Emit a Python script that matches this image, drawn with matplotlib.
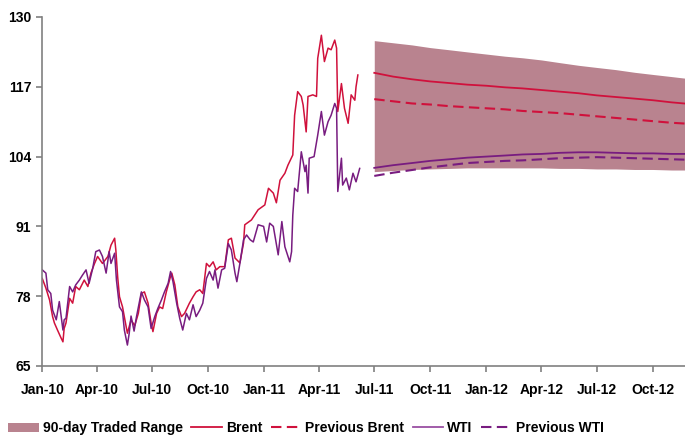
import matplotlib
matplotlib.use('Agg')
import matplotlib.pyplot as plt
import matplotlib.dates as mdates
import pandas as pd
from matplotlib.lines import Line2D
from matplotlib.patches import Patch

plt.rcParams['font.family'] = ['Liberation Sans', 'DejaVu Sans']
plt.rcParams['font.weight'] = 'bold'
plt.rcParams['font.size'] = 10

RED = '#D0113C'
PURPLE = '#781C80'
BAND = '#B9838F'

# daily history (readings at turning points)
brent_dates = ['2010-01-01', '2010-01-07', '2010-01-13', '2010-01-18', '2010-01-21', '2010-01-26',
               '2010-02-01', '2010-02-04', '2010-02-06', '2010-02-09', '2010-02-15', '2010-02-20',
               '2010-02-25', '2010-03-03', '2010-03-11', '2010-03-17', '2010-03-22', '2010-03-28',
               '2010-04-02', '2010-04-10', '2010-04-19', '2010-04-24', '2010-04-30', '2010-05-02',
               '2010-05-05', '2010-05-08', '2010-05-13', '2010-05-19', '2010-05-21', '2010-05-27',
               '2010-06-02', '2010-06-08', '2010-06-13', '2010-06-18', '2010-06-24', '2010-06-29',
               '2010-07-02', '2010-07-08', '2010-07-13', '2010-07-18', '2010-07-24', '2010-07-30',
               '2010-08-02', '2010-08-07', '2010-08-12', '2010-08-18', '2010-08-23', '2010-08-31',
               '2010-09-06', '2010-09-11', '2010-09-17', '2010-09-22', '2010-09-28', '2010-10-03',
               '2010-10-09', '2010-10-14', '2010-10-20', '2010-10-28', '2010-11-03', '2010-11-08',
               '2010-11-14', '2010-11-22', '2010-11-28', '2010-11-30', '2010-12-11', '2010-12-22',
               '2011-01-02', '2011-01-08', '2011-01-16', '2011-01-21', '2011-01-27', '2011-02-04',
               '2011-02-09', '2011-02-17', '2011-02-20', '2011-02-25', '2011-03-03', '2011-03-06',
               '2011-03-11', '2011-03-14', '2011-03-22', '2011-03-28', '2011-03-30', '2011-04-05',
               '2011-04-10', '2011-04-16', '2011-04-21', '2011-04-27', '2011-04-30', '2011-05-02',
               '2011-05-08', '2011-05-13', '2011-05-19', '2011-05-24', '2011-05-30', '2011-06-01',
               '2011-06-04']
brent_hist = [81.3, 79.5, 77.3, 74.2, 73.0, 71.7,
              70.2, 69.5, 72.0, 73.0, 77.6, 76.7,
              79.8, 79.2, 81.0, 79.8, 82.3, 84.1,
              85.4, 84.1, 85.4, 87.5, 88.8, 86.6,
              81.6, 77.9, 76.0, 72.3, 71.1, 73.6,
              72.5, 74.8, 78.5, 78.8, 76.7, 73.0,
              71.4, 74.8, 76.0, 75.7, 78.8, 81.3,
              82.3, 80.1, 76.0, 74.2, 74.8, 76.7,
              77.9, 78.8, 79.2, 78.5, 84.1, 83.5,
              84.4, 82.9, 83.5, 83.5, 88.5, 88.8,
              85.1, 84.2, 87.9, 91.3, 92.2, 94.1,
              95.0, 98.1, 97.2, 95.4, 99.6, 100.9,
              102.4, 104.3, 111.7, 116.1, 115.2, 113.6,
              108.6, 115.2, 115.5, 115.2, 122.3, 126.6,
              121.7, 124.2, 123.9, 125.7, 124.2, 112.4,
              117.6, 113.0, 110.2, 115.5, 114.5, 117.0,
              119.2]

wti_dates = ['2010-01-01', '2010-01-07', '2010-01-10', '2010-01-15', '2010-01-18', '2010-01-24',
             '2010-01-29', '2010-02-04', '2010-02-06', '2010-02-09', '2010-02-15', '2010-02-20',
             '2010-02-25', '2010-03-03', '2010-03-08', '2010-03-14', '2010-03-19', '2010-03-25',
             '2010-03-30', '2010-04-05', '2010-04-10', '2010-04-16', '2010-04-21', '2010-04-24',
             '2010-04-30', '2010-05-03', '2010-05-08', '2010-05-13', '2010-05-16', '2010-05-21',
             '2010-05-24', '2010-05-27', '2010-06-01', '2010-06-05', '2010-06-13', '2010-06-18',
             '2010-06-24', '2010-06-29', '2010-07-05', '2010-07-10', '2010-07-16', '2010-07-21',
             '2010-07-27', '2010-07-31', '2010-08-04', '2010-08-10', '2010-08-15', '2010-08-20',
             '2010-08-26', '2010-08-31', '2010-09-06', '2010-09-11', '2010-09-17', '2010-09-22',
             '2010-09-28', '2010-10-03', '2010-10-09', '2010-10-12', '2010-10-17', '2010-10-23',
             '2010-10-28', '2010-11-03', '2010-11-08', '2010-11-14', '2010-11-17', '2010-11-22',
             '2010-11-28', '2010-12-03', '2010-12-09', '2010-12-14', '2010-12-22', '2010-12-31',
             '2011-01-05', '2011-01-10', '2011-01-16', '2011-01-24', '2011-01-30', '2011-02-04',
             '2011-02-12', '2011-02-15', '2011-02-17', '2011-02-20', '2011-02-25', '2011-03-03',
             '2011-03-09', '2011-03-11', '2011-03-14', '2011-03-16', '2011-03-24', '2011-03-30',
             '2011-04-05', '2011-04-10', '2011-04-16', '2011-04-21', '2011-04-27', '2011-04-30',
             '2011-05-02', '2011-05-08', '2011-05-10', '2011-05-16', '2011-05-21', '2011-05-27',
             '2011-06-01', '2011-06-07']
wti_hist = [82.9, 82.3, 79.2, 78.5, 75.4, 73.6,
            77.0, 71.7, 73.6, 73.9, 79.8, 78.8,
            80.1, 81.0, 81.9, 82.9, 80.4, 83.2,
            86.3, 86.6, 85.4, 82.3, 86.3, 84.1,
            86.0, 81.0, 76.0, 75.1, 71.7, 68.9,
            71.1, 74.3, 71.5, 74.2, 78.8, 77.3,
            76.0, 72.0, 74.2, 75.7, 77.3, 78.8,
            80.4, 82.6, 80.7, 76.7, 73.9, 71.7,
            74.8, 73.6, 76.4, 74.2, 75.4, 76.7,
            81.3, 82.6, 81.0, 82.9, 79.5, 82.9,
            83.2, 87.8, 86.6, 82.3, 80.7, 84.1,
            88.5, 89.4, 88.5, 88.1, 91.3, 91.0,
            88.1, 91.6, 91.0, 85.7, 91.9, 87.2,
            84.4, 86.3, 93.1, 98.1, 97.5, 104.9,
            101.2, 102.4, 97.2, 103.7, 104.0, 108.0,
            112.4, 108.0, 110.5, 111.7, 113.9, 113.0,
            97.5, 103.7, 98.7, 100.0, 97.8, 100.9,
            99.3, 101.8]

# monthly forecast, Jul-11 .. Dec-12
fc_months = pd.date_range('2011-07-01', '2012-12-01', freq='MS')
range_hi = [125.6, 125.2, 124.8, 124.3, 123.9, 123.5, 123.1, 122.7, 122.4,
            122.0, 121.5, 121.0, 120.6, 120.2, 119.7, 119.3, 118.9, 118.5]
range_lo = [101.2, 101.4, 101.6, 101.7, 101.8, 101.9, 101.9, 101.9, 101.9,
            101.9, 101.8, 101.8, 101.7, 101.7, 101.6, 101.6, 101.5, 101.5]
brent_fc = [119.6, 118.9, 118.4, 118.0, 117.7, 117.4, 117.2, 116.9, 116.7,
            116.4, 116.1, 115.8, 115.4, 115.1, 114.8, 114.5, 114.1, 113.8]
brent_prev = [114.7, 114.3, 113.9, 113.7, 113.4, 113.2, 113.0, 112.8, 112.5,
              112.3, 112.1, 111.8, 111.5, 111.2, 110.9, 110.6, 110.3, 110.1]
wti_fc = [101.9, 102.4, 102.8, 103.2, 103.5, 103.8, 104.0, 104.2, 104.4,
          104.5, 104.7, 104.8, 104.8, 104.7, 104.6, 104.6, 104.5, 104.5]
wti_prev = [100.4, 101.0, 101.5, 102.0, 102.4, 102.8, 103.0, 103.2, 103.3,
            103.5, 103.7, 103.8, 103.9, 103.8, 103.7, 103.6, 103.5, 103.4]

yticks = [65, 78, 91, 104, 117, 130]

fig = plt.figure(figsize=(6.85, 4.37), dpi=100)
ax = fig.add_axes([0.0617, 0.1625, 0.9383, 0.7986])

dashed = (0, (5, 2.6))
ax.fill_between(fc_months, range_lo, range_hi, color=BAND, lw=0)
ax.plot(pd.to_datetime(brent_dates), brent_hist, color=RED, lw=1.1)
ax.plot(pd.to_datetime(wti_dates), wti_hist, color=PURPLE, lw=1.1)
ax.plot(fc_months, brent_fc, color=RED, lw=1.3)
ax.plot(fc_months, brent_prev, color=RED, lw=1.5, ls=dashed)
ax.plot(fc_months, wti_fc, color=PURPLE, lw=1.3)
ax.plot(fc_months, wti_prev, color=PURPLE, lw=1.5, ls=dashed)

ax.set_xlim(pd.Timestamp('2010-01-01'), pd.Timestamp('2012-11-23'))
ax.set_ylim(65, 130)
ax.set_yticks(yticks)
ax.xaxis.set_major_locator(mdates.MonthLocator(bymonth=[1, 4, 7, 10]))
ax.xaxis.set_major_formatter(mdates.DateFormatter('%b-%y'))

for s in ['top', 'right']:
    ax.spines[s].set_visible(False)
for s in ['left', 'bottom']:
    ax.spines[s].set_color('#808080')
    ax.spines[s].set_linewidth(1.2)
ax.tick_params(axis='both', direction='out', length=4, width=1.2, color='#808080',
               labelsize=10, pad=4)
ax.tick_params(axis='x', pad=8)

handles = [Patch(facecolor=BAND, edgecolor='none'),
           Line2D([], [], color=RED, lw=1.3),
           Line2D([], [], color=RED, lw=1.5, ls=dashed),
           Line2D([], [], color='#9A4FA3', lw=1.3),
           Line2D([], [], color=PURPLE, lw=1.5, ls=dashed)]
labels = ['90-day Traded Range', 'Brent', 'Previous Brent', 'WTI', 'Previous WTI']
fig.legend(handles, labels, loc='center left', bbox_to_anchor=(0.0117, 0.02),
           ncol=5, frameon=False, handlelength=2.2, handletextpad=0.3,
           columnspacing=0.6, borderpad=0, borderaxespad=0, fontsize=10)

plt.savefig('out.png', dpi=100)
